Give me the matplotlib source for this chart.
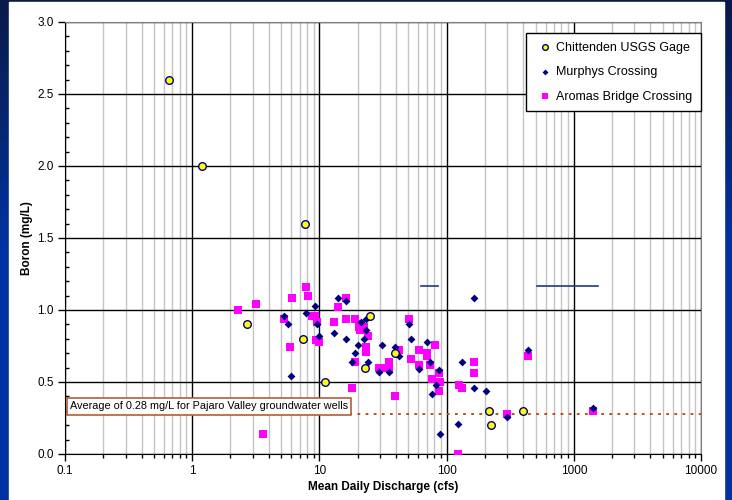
import numpy as np
import matplotlib
matplotlib.use("Agg")
import matplotlib.pyplot as plt
from matplotlib.ticker import LogLocator, FuncFormatter, MultipleLocator
from matplotlib.patches import Rectangle

plt.rcParams['font.family'] = ['Liberation Sans', 'DejaVu Sans']

# Chittenden USGS Gage
chit_q = [0.66, 1.2, 7.7, 2.7, 7.4, 11.0, 25, 23, 39, 217, 223, 402]
chit_b = [2.6, 2.0, 1.6, 0.90, 0.80, 0.50, 0.96, 0.60, 0.70, 0.30, 0.20, 0.30]

# Murphys Crossing
murp_q = [5.3, 5.7, 9.2, 7.9, 9.6, 10.0, 6.0, 14.0, 16.1, 13.1, 16.1, 20.0, 19.1,
          18.0, 21.3, 23.2, 23.2, 22.3, 24.3, 29.3, 35, 31, 39, 42, 50.5, 52.4,
          69.7, 61, 74, 87, 82, 77, 88, 163, 132, 163, 203, 122, 301, 440, 1420]
murp_b = [0.96, 0.90, 1.03, 0.98, 0.90, 0.82, 0.54, 1.08, 1.06, 0.84, 0.80, 0.76, 0.70,
          0.64, 0.92, 0.94, 0.86, 0.80, 0.64, 0.57, 0.57, 0.76, 0.74, 0.68, 0.90, 0.80,
          0.78, 0.59, 0.64, 0.58, 0.48, 0.42, 0.14, 1.08, 0.64, 0.46, 0.44, 0.21, 0.26, 0.72, 0.32]

# Aromas Bridge Crossing
arom_q = [2.3, 3.2, 7.9, 8.15, 6.1, 5.3, 8.8, 9.3, 9.6, 9.4, 10.0, 5.9, 3.6, 16.1,
          14.0, 13.1, 16.1, 19.1, 21.3, 20.3, 22.3, 21, 24.3, 23.2, 23.2, 19.1, 18.1,
          29.3, 31.5, 35, 35, 39.2, 42, 50.4, 52.4, 61, 69.7, 69.7, 81.5, 60.3, 74,
          87, 76.6, 88, 87, 163, 163, 126, 132, 122, 301, 440, 1420]
arom_b = [1.00, 1.04, 1.16, 1.10, 1.08, 0.94, 0.96, 0.96, 0.92, 0.79, 0.78, 0.74, 0.14, 1.08,
          1.02, 0.92, 0.94, 0.94, 0.90, 0.88, 0.88, 0.86, 0.82, 0.74, 0.71, 0.64, 0.46,
          0.60, 0.60, 0.64, 0.60, 0.40, 0.72, 0.94, 0.66, 0.72, 0.70, 0.68, 0.76, 0.62, 0.62,
          0.56, 0.52, 0.50, 0.44, 0.64, 0.56, 0.48, 0.46, 0.0, 0.28, 0.68, 0.30]

# stray line segments in the original chart
seg1_q = [62.4, 86]
seg2_q = [518, 1563]
seg_b = 1.17

gw_avg = 0.28
gw_text = 'Average of 0.28 mg/L for Pajaro Valley groundwater wells'

fig = plt.figure(figsize=(7.32, 5.0), dpi=100)
fig.patch.set_facecolor('#0033a0')

# blue frame with darker top, white panel
bg = fig.add_axes([0, 0, 1, 1], zorder=-10)
grad = np.linspace(0, 1, 256).reshape(-1, 1)
cmap = matplotlib.colors.LinearSegmentedColormap.from_list('bg', ['#0a1a4a', '#0033a0', '#0033a0'])
bg.imshow(grad, aspect='auto', cmap=cmap, extent=[0, 1, 0, 1], origin='upper')
bg.add_patch(Rectangle((9 / 732, 0), 715 / 732, 498 / 500, color='white'))
bg.set_xlim(0, 1)
bg.set_ylim(0, 1)
bg.axis('off')

ax = fig.add_axes([65 / 732, 46 / 500, 636 / 732, 432 / 500])
ax.set_xscale('log')
ax.set_xlim(0.1, 10000)
ax.set_ylim(0, 3.0)

ax.xaxis.set_major_locator(LogLocator(base=10, numticks=10))
ax.xaxis.set_minor_locator(LogLocator(base=10, subs=np.arange(2, 10), numticks=100))
ax.xaxis.set_major_formatter(FuncFormatter(lambda v, p: f'{v:g}'))
ax.xaxis.set_minor_formatter(FuncFormatter(lambda v, p: ''))
ax.yaxis.set_major_locator(MultipleLocator(0.5))
ax.yaxis.set_minor_locator(MultipleLocator(0.1))
ax.yaxis.set_major_formatter(FuncFormatter(lambda v, p: f'{v:.1f}'))

ax.grid(which='major', color='black', lw=1.0)
ax.grid(which='minor', axis='x', color='#c4c4c4', lw=1.0)
ax.set_axisbelow(True)

ax.tick_params(axis='both', which='major', labelsize=8.5, length=5, width=1, color='black', pad=3)
ax.tick_params(axis='x', which='minor', length=3, width=1, direction='out')
ax.tick_params(axis='y', which='minor', length=3, width=1, direction='in')
for s in ['top', 'right']:
    ax.spines[s].set_color('#808080')
for s in ['left', 'bottom']:
    ax.spines[s].set_color('black')

# groundwater average line
ax.axhline(gw_avg, color='#b84000', lw=1.3, ls=(0, (1.5, 3)), zorder=2)
ax.plot(seg1_q, [seg_b, seg_b], color='#1f3a7a', lw=1.2, zorder=2)
ax.plot(seg2_q, [seg_b, seg_b], color='#1f3a7a', lw=1.2, zorder=2)

ax.scatter(arom_q, arom_b, marker='s', s=28, color='#ff00ff', lw=0, zorder=3,
           label='Aromas Bridge Crossing')
ax.scatter(murp_q, murp_b, marker='D', s=16, color='#000080', lw=0, zorder=4,
           label='Murphys Crossing')
ax.scatter(chit_q, chit_b, marker='o', s=30, color='yellow', edgecolors='#000080',
           lw=1, zorder=5, label='Chittenden USGS Gage')

ax.text(0.0075, 0.11, gw_text, fontsize=7.8, ha='left', va='center', zorder=6,
        transform=ax.transAxes,
        bbox=dict(boxstyle='square,pad=0.3', fc='white', ec='#b0603a', lw=1.2))

h, l = ax.get_legend_handles_labels()
leg = ax.legend(h[::-1], l[::-1], loc='upper right', bbox_to_anchor=(1.0, 0.975),
                fontsize=9, frameon=True, fancybox=False, edgecolor='black',
                framealpha=1, labelspacing=1.0, handletextpad=0.1, handlelength=1.6,
                borderpad=0.7, markerscale=0.75, borderaxespad=0)
leg.get_frame().set_linewidth(1.0)

ax.set_xlabel('Mean Daily Discharge (cfs)', fontsize=8.5, fontweight='bold', labelpad=3)
ax.set_ylabel('Boron (mg/L)', fontsize=8.5, fontweight='bold', labelpad=3)

fig.savefig('out.png', dpi=100)
